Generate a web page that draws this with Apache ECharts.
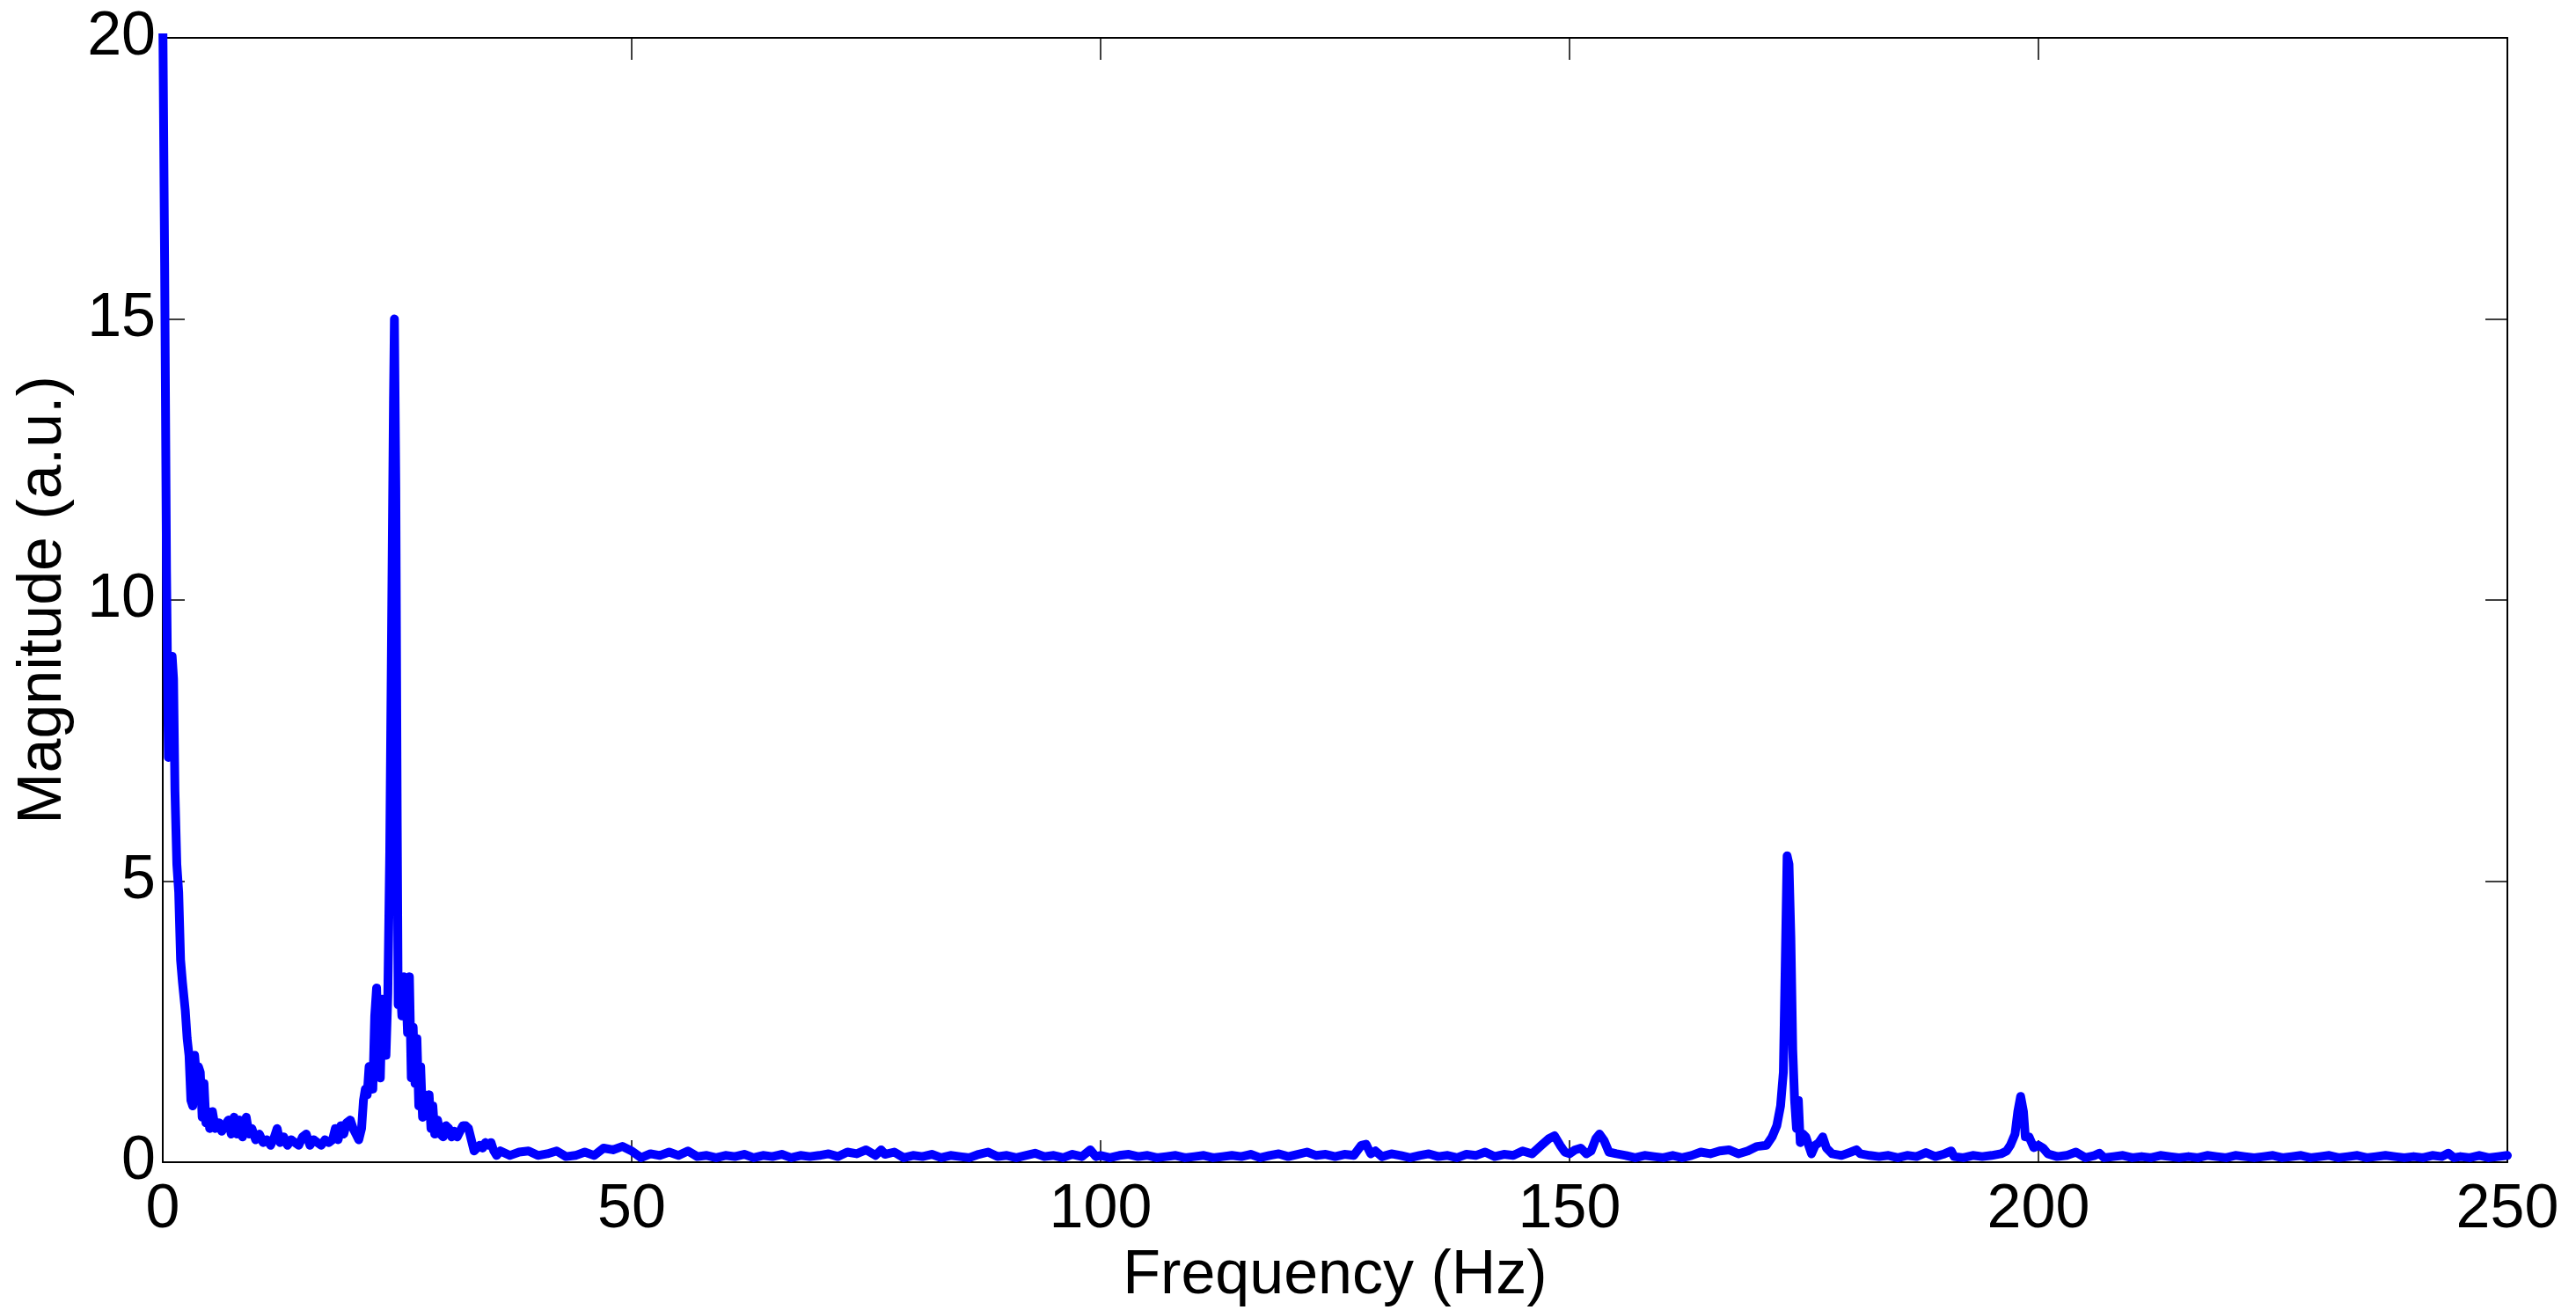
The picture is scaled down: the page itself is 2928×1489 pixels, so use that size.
<!DOCTYPE html>
<html>
<head>
<meta charset="utf-8">
<script src="https://cdn.jsdelivr.net/npm/echarts@6/dist/echarts.min.js"></script>
<style>
  html, body { margin: 0; padding: 0; background: #fff; }
  #spectrum { width: 2928px; height: 1489px; }
</style>
</head>
<body>
<div id="spectrum"></div>
<script>
// frequency bins (Hz) and magnitudes (a.u.)
var freq = [
  0, 0.2, 0.4, 0.6, 0.8, 1.0, 1.15, 1.3, 1.5, 1.7, 1.9, 2.1, 2.4, 2.6, 2.8, 3.0, 3.2, 3.4, 3.6, 3.8,
  4.0, 4.2, 4.4, 4.6, 4.8, 5.0, 5.3, 5.6, 6.0, 6.3, 6.6, 7.0, 7.3, 7.6, 7.9, 8.2, 8.5, 8.9, 9.2, 9.5,
  9.9, 10.3, 10.7, 11.1, 11.5, 11.9, 12.2, 12.5, 12.9, 13.3, 13.7, 14.1, 14.5, 14.9, 15.3, 15.7, 16.1, 16.5, 16.9, 17.3,
  17.7, 18.1, 18.4, 18.7, 19.0, 19.3, 19.6, 20.0, 20.3, 20.6, 20.9, 21.2, 21.4, 21.6, 21.8, 22.0, 22.2, 22.4, 22.6, 22.8,
  23.0, 23.2, 23.4, 23.6, 23.8, 24.0, 24.2, 24.4, 24.6, 24.7, 24.85, 25.0, 25.1, 25.3, 25.5, 25.7, 25.9, 26.1, 26.3, 26.5,
  26.7, 26.9, 27.1, 27.3, 27.5, 27.7, 27.9, 28.1, 28.4, 28.6, 28.8, 29.0, 29.3, 29.6, 29.9, 30.2, 30.5, 30.8, 31.1, 31.4,
  31.7, 32.0, 32.3, 32.6, 32.9, 33.2, 33.5, 33.8, 34.1, 34.4, 34.7, 35.0, 35.3, 35.6, 36,
  37, 38, 39, 40, 41, 42, 43, 44, 45, 46, 47, 48, 49, 50, 51, 52, 53, 54, 55, 56,
  57, 58, 59, 60, 61, 62, 63, 64, 65, 66, 67, 68, 69, 70, 71, 72, 73, 74, 75, 76,
  76.6, 77, 78, 79, 80, 81, 82, 83, 84, 85, 86, 87, 88, 89, 90, 91, 92, 93, 94, 95,
  96, 97, 98, 98.9, 99.5, 100, 101, 102, 103, 104, 105, 106, 107, 108, 109, 110, 111, 112, 113, 114,
  115, 116, 117, 118, 119, 120, 121, 122, 123, 124, 125, 126, 127, 127.8, 128.3, 128.8, 129.3, 130, 131, 132,
  133, 134, 135, 136, 137, 138, 139, 140, 141, 142, 143, 144, 145, 146, 147, 147.8, 148.4, 149, 149.5, 150,
  150.6, 151.2, 151.8, 152.3, 152.8, 153.2, 153.7, 154.2, 155, 156, 157, 158, 159, 160, 161, 162, 163, 164, 165, 166,
  167, 168, 169, 170, 171, 171.6, 172.1, 172.5, 172.8, 173.0, 173.2, 173.4, 173.6, 173.8, 174.0, 174.2, 174.4, 174.6, 174.9, 175.2,
  175.5, 175.8, 176.2, 176.6, 177.0, 177.4, 178, 179, 180, 180.6, 181, 182, 183, 184, 185, 186, 187, 188, 189, 190,
  190.7, 191, 192, 193, 194, 195, 196, 196.6, 197.0, 197.5, 197.8, 198.1, 198.4, 198.6, 199.0, 199.5, 200, 200.5, 201, 202,
  203, 204, 205, 206, 206.5, 207, 208, 209, 210, 211, 212, 213, 214, 215, 216, 217, 218, 219, 220, 221,
  222, 223, 224, 225, 226, 227, 228, 229, 230, 231, 232, 233, 234, 235, 236, 237, 238, 239, 240, 241,
  242, 243, 243.7, 244.3, 245, 246, 247, 248, 249, 250
];
var magnitude = [
  20.5, 16, 10.5, 7.2, 8.8, 9.0, 8.6, 6.6, 5.3, 4.8, 3.6, 3.2, 2.7, 2.2, 1.9, 1.1, 1.0, 1.9, 1.5, 1.7,
  1.6, 0.8, 1.4, 0.7, 0.9, 0.6, 0.9, 0.6, 0.7, 0.55, 0.65, 0.75, 0.5, 0.8, 0.5, 0.75, 0.45, 0.8, 0.5, 0.6,
  0.4, 0.5, 0.35, 0.4, 0.3, 0.45, 0.6, 0.35, 0.45, 0.3, 0.4, 0.35, 0.3, 0.45, 0.5, 0.3, 0.4, 0.35, 0.3, 0.4,
  0.35, 0.4, 0.6, 0.4, 0.65, 0.5, 0.7, 0.75, 0.6, 0.5, 0.4, 0.6, 1.1, 1.3, 1.2, 1.7, 1.5, 1.3, 2.6, 3.1,
  2.0, 1.5, 2.9, 2.2, 1.9, 3.0, 5.5, 9.5, 13.5, 15.0, 12.0, 6.0, 2.8, 3.2, 2.6, 3.3, 3.2, 2.3, 3.3, 1.5,
  2.4, 1.4, 2.2, 1.0, 1.7, 0.8, 1.2, 0.9, 1.2, 0.6, 1.0, 0.5, 0.75, 0.5, 0.45, 0.65, 0.6, 0.45, 0.55, 0.45,
  0.55, 0.65, 0.65, 0.6, 0.4, 0.2, 0.25, 0.3, 0.25, 0.35, 0.3, 0.35, 0.2, 0.12, 0.2,
  0.12, 0.18, 0.2, 0.12, 0.15, 0.2, 0.1, 0.12, 0.18, 0.12, 0.25, 0.22, 0.28, 0.2, 0.08, 0.15, 0.12, 0.18, 0.12, 0.2,
  0.1, 0.12, 0.08, 0.12, 0.1, 0.14, 0.08, 0.12, 0.1, 0.14, 0.08, 0.12, 0.1, 0.12, 0.15, 0.1, 0.18, 0.15, 0.22, 0.12,
  0.22, 0.14, 0.18, 0.08, 0.12, 0.1, 0.14, 0.08, 0.12, 0.1, 0.08, 0.14, 0.18, 0.1, 0.12, 0.08, 0.12, 0.16, 0.1, 0.12,
  0.08, 0.14, 0.1, 0.22, 0.1, 0.12, 0.08, 0.12, 0.14, 0.1, 0.12, 0.08, 0.1, 0.12, 0.08, 0.1, 0.12, 0.08, 0.1, 0.12,
  0.1, 0.14, 0.08, 0.12, 0.15, 0.1, 0.14, 0.18, 0.12, 0.14, 0.1, 0.14, 0.12, 0.3, 0.32, 0.15, 0.2, 0.1, 0.15, 0.12,
  0.08, 0.12, 0.15, 0.1, 0.12, 0.08, 0.14, 0.12, 0.18, 0.1, 0.14, 0.12, 0.2, 0.15, 0.3, 0.42, 0.47, 0.3, 0.18, 0.15,
  0.22, 0.25, 0.15, 0.2, 0.42, 0.5, 0.38, 0.18, 0.15, 0.12, 0.08, 0.12, 0.1, 0.08, 0.12, 0.08, 0.12, 0.18, 0.15, 0.2,
  0.22, 0.15, 0.2, 0.28, 0.3, 0.45, 0.65, 1.0, 1.6, 3.5, 5.45, 5.3, 4.0, 2.0, 1.1, 0.6, 1.1, 0.35, 0.5, 0.45,
  0.3, 0.15, 0.3, 0.35, 0.45, 0.25, 0.15, 0.12, 0.18, 0.22, 0.15, 0.12, 0.1, 0.12, 0.08, 0.12, 0.1, 0.17, 0.1, 0.15,
  0.2, 0.1, 0.08, 0.12, 0.1, 0.12, 0.15, 0.2, 0.3, 0.5, 0.9, 1.17, 0.9, 0.45, 0.45, 0.26, 0.3, 0.25, 0.15, 0.1,
  0.12, 0.18, 0.08, 0.12, 0.16, 0.08, 0.1, 0.12, 0.08, 0.1, 0.08, 0.12, 0.1, 0.08, 0.1, 0.08, 0.12, 0.1, 0.08, 0.12,
  0.1, 0.08, 0.1, 0.12, 0.08, 0.1, 0.12, 0.08, 0.1, 0.12, 0.08, 0.1, 0.12, 0.08, 0.1, 0.12, 0.1, 0.08, 0.1, 0.08,
  0.12, 0.1, 0.16, 0.08, 0.1, 0.08, 0.12, 0.08, 0.1, 0.12
];
var xTicks = [0, 250, 50];   // min, max, step
var yTicks = [0, 20, 5];

var font = 'Arial, "Liberation Sans", sans-serif';

var points = [];
for (var i = 0; i < freq.length; i++) {
  points.push([freq[i], magnitude[i]]);
}

function boxAxis(show, ticks, extra) {
  var ax = {
    type: 'value',
    min: ticks[0],
    max: ticks[1],
    interval: ticks[2],
    splitLine: { show: false },
    axisLine: { show: true, onZero: false, lineStyle: { color: '#000', width: 2 } },
    axisTick: { show: true, inside: true, length: 25, lineStyle: { color: '#000', width: 1.5 } },
    axisLabel: { show: show, color: '#000', fontFamily: font, fontSize: 70 }
  };
  for (var k in extra) ax[k] = extra[k];
  return ax;
}

var chart = echarts.init(document.getElementById('spectrum'));
var option = {
  animation: false,
  backgroundColor: '#fff',
  grid: { left: 185, right: 78, top: 43, bottom: 168, containLabel: false, outerBoundsMode: 'none' },
  xAxis: [
    boxAxis(true, xTicks, {
      position: 'bottom',
      name: 'Frequency (Hz)',
      nameLocation: 'middle',
      nameGap: 82,
      nameTextStyle: { color: '#000', fontFamily: font, fontSize: 70 },
      axisLabel: { show: true, color: '#000', fontFamily: font, fontSize: 70, margin: 20 }
    }),
    boxAxis(false, xTicks, { position: 'top' })
  ],
  yAxis: [
    boxAxis(true, yTicks, {
      position: 'left',
      name: 'Magnitude (a.u.)',
      nameLocation: 'middle',
      nameGap: 100,
      nameTextStyle: { color: '#000', fontFamily: font, fontSize: 70 },
      axisLabel: { show: true, color: '#000', fontFamily: font, fontSize: 70, margin: 8 }
    }),
    boxAxis(false, yTicks, { position: 'right' })
  ],
  series: [{
    type: 'line',
    data: points,
    xAxisIndex: 0,
    yAxisIndex: 0,
    showSymbol: false,
    clip: true,
    lineStyle: { color: '#0000ff', width: 10, join: 'round', cap: 'round' },
    itemStyle: { color: '#0000ff' }
  }]
};
chart.setOption(option);
</script>
</body>
</html>
